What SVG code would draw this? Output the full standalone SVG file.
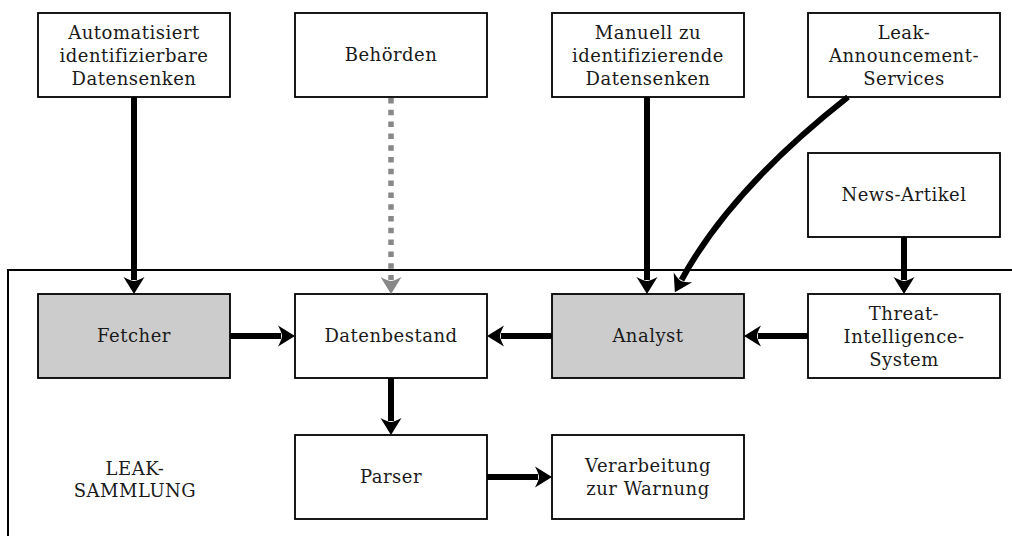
<svg xmlns="http://www.w3.org/2000/svg" width="1012" height="536" viewBox="0 0 1012 536">
  <style>
    .box { fill: #ffffff; stroke: #000000; stroke-width: 1.8; }
    .box.active { fill: #cccccc; }
    text { font-family: "DejaVu Serif", "Liberation Serif", serif; font-size: 18px; letter-spacing: 0.5px; fill: #1a1a1a; text-anchor: middle; }
    .edge { fill: none; stroke: #000000; stroke-width: 6; }
    .edge.dotted { stroke: #888888; stroke-width: 5.5; stroke-dasharray: 5.5 6.3; }
    .frame { fill: none; stroke: #000000; stroke-width: 2; }
  </style>
  <defs>
    <marker id="head" markerUnits="userSpaceOnUse" viewBox="-6 -12 22 24" markerWidth="22" markerHeight="24" refX="0" refY="0" orient="auto">
      <path d="M14,0 L-3,-10.5 Q1,-3 1,0 Q1,3 -3,10.5 Z" fill="#000000"/>
    </marker>
    <marker id="head-grey" markerUnits="userSpaceOnUse" viewBox="-6 -12 22 24" markerWidth="22" markerHeight="24" refX="0" refY="0" orient="auto">
      <path d="M14,0 L-3,-10.5 Q1,-3 1,0 Q1,3 -3,10.5 Z" fill="#888888"/>
    </marker>
  </defs>

  <!-- collection boundary, open to the right and bottom -->
  <path class="frame" d="M1013,270 H8 V537"/>

  <g id="src-auto">
    <rect class="box" x="38" y="13" width="192" height="84"/>
    <text x="134" y="39">Automatisiert</text>
    <text x="134" y="62">identifizierbare</text>
    <text x="134" y="85">Datensenken</text>
  </g>
  <g id="src-authorities">
    <rect class="box" x="295" y="13" width="192" height="84"/>
    <text x="391" y="61">Behörden</text>
  </g>
  <g id="src-manual">
    <rect class="box" x="552" y="13" width="192" height="84"/>
    <text x="648" y="39">Manuell zu</text>
    <text x="648" y="62">identifizierende</text>
    <text x="648" y="85">Datensenken</text>
  </g>
  <g id="src-announce">
    <rect class="box" x="808" y="13" width="192" height="84"/>
    <text x="904" y="39">Leak-</text>
    <text x="904" y="62">Announcement-</text>
    <text x="904" y="85">Services</text>
  </g>
  <g id="src-news">
    <rect class="box" x="808" y="153" width="192" height="84"/>
    <text x="904" y="201">News-Artikel</text>
  </g>

  <g id="fetcher">
    <rect class="box active" x="38" y="294" width="192" height="84"/>
    <text x="134" y="342">Fetcher</text>
  </g>
  <g id="datenbestand">
    <rect class="box" x="295" y="294" width="192" height="84"/>
    <text x="391" y="342">Datenbestand</text>
  </g>
  <g id="analyst">
    <rect class="box active" x="552" y="294" width="192" height="84"/>
    <text x="648" y="342">Analyst</text>
  </g>
  <g id="tis">
    <rect class="box" x="808" y="294" width="192" height="84"/>
    <text x="904" y="320">Threat-</text>
    <text x="904" y="343">Intelligence-</text>
    <text x="904" y="366">System</text>
  </g>
  <g id="parser">
    <rect class="box" x="295" y="435" width="192" height="84"/>
    <text x="391" y="483">Parser</text>
  </g>
  <g id="warning">
    <rect class="box" x="552" y="435" width="192" height="84"/>
    <text x="648" y="472">Verarbeitung</text>
    <text x="648" y="495">zur Warnung</text>
  </g>
  <g id="label-collection">
    <text x="135" y="475">LEAK-</text>
    <text x="135" y="497">SAMMLUNG</text>
  </g>

  <g id="connectors">
    <path class="edge" d="M134,97 V280" marker-end="url(#head)"/>
    <path class="edge dotted" d="M391,98 V280" marker-end="url(#head-grey)"/>
    <path class="edge" d="M647,97 V280" marker-end="url(#head)"/>
    <path class="edge" d="M848,97 Q730,190 681.5,280" marker-end="url(#head)"/>
    <path class="edge" d="M904,237 V280" marker-end="url(#head)"/>
    <path class="edge" d="M230,336 H281" marker-end="url(#head)"/>
    <path class="edge" d="M552,336 H501" marker-end="url(#head)"/>
    <path class="edge" d="M808,336 H758" marker-end="url(#head)"/>
    <path class="edge" d="M391,378 V421" marker-end="url(#head)"/>
    <path class="edge" d="M487,477 H538" marker-end="url(#head)"/>
  </g>
</svg>
